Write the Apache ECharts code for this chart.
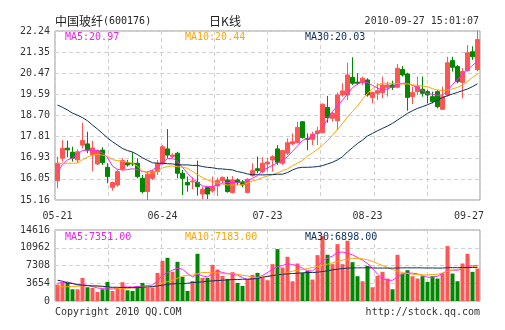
<!DOCTYPE html>
<html><head><meta charset="utf-8">
<script src="https://cdn.jsdelivr.net/npm/echarts@6/dist/echarts.min.js"></script>
<style>html,body{margin:0;padding:0;background:#fff}#c{width:505px;height:330px}</style>
</head><body><div id="c"></div>
<script>
const dates = ['05-21','05-24','05-25','05-26','05-27','05-28','05-31','06-01','06-02','06-03','06-04','06-07','06-08','06-09','06-10','06-11','06-17','06-18','06-21','06-22','06-23','06-24',
'06-25','06-28','06-29','06-30','07-01','07-02','07-05','07-06','07-07','07-08','07-09','07-12','07-13','07-14','07-15','07-16','07-19','07-20','07-21','07-22','07-23',
'07-26','07-27','07-28','07-29','07-30','08-02','08-03','08-04','08-05','08-06','08-09','08-11','08-12','08-13','08-16','08-17','08-18','08-19','08-20','08-23',
'08-24','08-25','08-26','08-27','08-30','08-31','09-01','09-02','09-03','09-06','09-07','09-08','09-09','09-10','09-13','09-14','09-15','09-16','09-17','09-20','09-21','09-27'];

const opens = [15.97,16.91,17.33,17.16,16.84,17.46,17.51,17.06,16.67,17.25,16.53,15.69,15.79,16.46,16.72,16.70,16.70,16.07,15.51,16.07,16.35,16.70,17.30,16.98,17.12,16.28,15.90,15.92,15.90,15.41,15.68,15.54,15.75,15.97,16.00,15.47,16.00,15.89,15.47,16.18,16.47,
16.35,16.67,16.84,17.30,16.70,17.12,17.51,17.56,18.44,17.74,17.70,17.95,17.98,19.04,18.58,18.48,19.56,19.56,20.30,20.10,20.08,20.19,19.45,19.63,19.66,19.88,19.98,19.88,20.63,20.44,19.49,19.70,19.80,19.70,19.49,19.70,18.96,19.56,21.00,20.75,20.09,20.58,21.37,20.62];
const closes = [16.70,17.32,17.26,16.91,17.18,17.65,17.25,17.34,17.23,16.72,16.14,15.89,16.35,16.81,16.63,16.67,16.14,15.51,16.24,16.35,16.70,17.39,17.04,17.04,16.28,16.07,15.79,15.95,15.72,15.61,15.41,15.72,15.97,16.11,15.51,16.00,15.89,15.79,16.03,16.39,16.39,
16.70,16.75,16.97,16.74,17.23,17.56,17.60,18.20,17.77,17.70,17.92,18.05,19.17,18.61,18.79,19.56,19.73,20.40,20.05,20.05,20.26,19.56,19.66,19.74,19.98,19.98,19.88,20.68,20.40,19.46,19.66,19.91,19.63,19.56,19.28,19.07,19.49,20.91,20.72,20.12,20.54,21.33,21.16,21.88];
const lows = [15.65,16.77,16.95,16.77,16.72,17.32,17.12,16.36,16.63,16.63,15.86,15.55,15.72,16.39,16.56,16.58,16.07,15.44,15.16,16.00,16.21,16.63,16.91,16.91,16.07,15.37,15.51,15.61,15.34,15.20,15.20,15.47,15.33,15.86,15.47,15.44,15.79,15.69,15.44,16.14,16.28,
16.28,16.35,16.35,16.63,16.63,17.04,17.46,17.53,17.74,17.25,17.46,17.46,17.95,18.40,18.44,18.09,19.49,19.35,19.98,19.98,19.98,19.49,19.21,19.35,19.42,19.49,19.77,19.84,20.33,18.90,19.18,19.56,19.49,19.21,19.21,19.00,18.93,19.49,20.54,20.05,19.42,20.54,21.03,20.55];
const highs = [16.98,17.67,17.65,17.39,17.28,18.40,18.02,17.64,17.28,17.37,16.70,15.93,16.42,16.91,16.84,17.16,16.91,16.21,16.35,16.42,16.84,17.46,18.13,17.12,17.18,16.42,16.14,16.11,16.81,15.72,15.72,16.14,16.10,16.14,16.14,16.16,16.07,16.00,16.07,16.70,16.98,
16.95,16.91,17.04,17.46,17.25,17.74,17.95,18.44,18.46,17.95,18.02,18.23,19.21,19.52,18.86,19.66,20.05,20.91,21.14,20.47,20.33,20.26,19.70,20.05,20.33,20.12,20.16,20.86,20.77,20.49,19.91,20.33,20.33,19.77,19.70,19.77,19.91,21.16,21.16,20.82,20.68,21.65,21.60,22.24];

const ma5 = [16.31,16.65,16.84,16.92,17.09,17.23,17.25,17.24,17.23,17.12,16.95,16.58,16.44,16.42,16.43,16.47,16.43,16.35,16.33,16.42,16.56,16.72,16.89,16.91,16.77,16.53,16.28,16.07,15.89,15.75,15.72,15.72,15.79,15.86,15.89,15.89,15.90,15.93,15.97,16.07,16.18,
16.39,16.50,16.61,16.71,16.82,16.97,17.20,17.42,17.66,17.73,17.83,17.98,18.20,18.54,18.87,19.11,19.34,19.60,19.87,20.01,20.10,20.08,19.96,19.85,19.77,19.81,19.91,19.98,20.05,20.05,19.96,19.85,19.74,19.61,19.59,19.55,19.55,19.75,20.00,20.20,20.40,20.62,20.80,20.97];
const ma10 = [16.70,16.70,16.70,16.70,16.71,16.85,16.96,17.04,17.06,17.04,16.99,16.85,16.81,16.78,16.75,16.70,16.58,16.37,16.30,16.29,16.36,16.50,16.57,16.58,16.56,16.53,16.49,16.36,16.22,16.10,16.00,15.93,15.87,15.83,15.79,15.79,15.79,15.80,15.87,15.96,16.01,
16.10,16.16,16.23,16.30,16.39,16.46,16.60,16.70,16.82,17.00,17.14,17.28,17.46,17.65,17.88,18.12,18.37,18.64,18.87,19.10,19.38,19.63,19.82,19.98,20.05,20.05,20.05,20.05,20.01,20.02,19.99,19.96,19.93,19.91,19.82,19.77,19.74,19.77,19.81,19.88,19.98,20.12,20.30,20.44];
const ma30 = [19.14,19.04,18.93,18.80,18.71,18.61,18.48,18.30,18.13,17.95,17.76,17.60,17.46,17.32,17.23,17.17,17.06,16.93,16.82,16.72,16.70,16.70,16.68,16.67,16.64,16.63,16.63,16.61,16.61,16.56,16.53,16.51,16.47,16.46,16.44,16.42,16.35,16.31,16.25,16.22,16.22,
16.21,16.22,16.22,16.24,16.24,16.31,16.42,16.50,16.53,16.53,16.54,16.56,16.60,16.67,16.74,16.84,16.97,17.18,17.35,17.53,17.67,17.84,17.95,18.06,18.16,18.26,18.37,18.51,18.65,18.79,18.90,19.00,19.07,19.15,19.24,19.35,19.45,19.53,19.60,19.67,19.74,19.81,19.91,20.03];

const volumes = [3378,3861,3792,2413,2413,4757,2827,2689,1861,2413,3930,2068,2689,3861,2206,2068,3033,3723,2758,2758,5791,8273,8894,6000,8066,4964,2068,4137,9721,4757,
4757,7446,6481,5171,4550,5929,3723,3102,4412,5378,5791,4757,4274,7583,10686,6894,9100,4067,7721,5791,6205,4412,9445,13374,9514,7583,11720,7583,12409,7997,
5102,4067,7239,2827,5171,5998,4619,2413,9514,5653,6342,5102,4619,5102,3930,5102,4619,5653,11306,5653,4067,7721,9721,5998,6687];
const vma5 = [3654,3792,3930,3654,3309,3309,3240,2964,2689,2551,2482,2482,2620,2895,2895,2895,2964,3102,3171,3309,4136,5308,5860,6342,6756,6549,5653,4964,5515,5171,4964,5653,6205,5860,5653,5515,5308,4826,4412,4550,4895,
5240,5860,6549,7032,7308,7652,7514,7239,6756,6205,6205,7032,8273,8824,9238,9996,10065,9858,9514,8962,8411,7721,6687,5515,4619,4274,4274,4964,5515,5791,5722,5584,5240,4895,4895,5102,5653,6274,6343,6343,6618,7170,7239,7351];
const vma10 = [2895,2895,2964,2964,3033,3102,3171,3171,3033,2895,2827,2689,2620,2551,2620,2689,2758,2827,2895,2895,3240,3723,3999,4274,4688,5102,5308,5308,5653,5860,5860,5791,5791,5653,5584,5653,5515,5308,5170,4895,4826,
4964,5102,5239,5377,5584,5860,6136,6343,6480,6687,6894,7101,7308,7583,7859,8135,8411,8618,8756,8756,8686,8480,8135,7721,7308,6894,6480,6136,5860,5653,5515,5446,5377,5377,5446,5515,5791,6136,6343,6480,6687,6894,7032,7183];
const vma30 = [4274,4067,3723,3585,3378,3240,3171,3102,3102,3033,2895,2827,2827,2758,2758,2758,2758,2827,2895,2964,3102,3240,3447,3516,3585,3585,3654,3792,3861,3930,4067,4136,4205,4274,4343,4412,4412,4481,4481,4550,4619,
4895,5033,5239,5377,5515,5584,5653,5722,5791,5860,5860,5929,6067,6205,6411,6549,6687,6756,6825,6825,6830,6840,6800,6780,6790,6770,6760,6800,6820,6830,6820,6830,6810,6790,6800,6780,6790,6850,6870,6860,6880,6900,6890,6898];

const priceTicks = ['15.16','16.05','16.93','17.81','18.70','19.59','20.47','21.35','22.24'];
const priceMin = 15.16, priceMax = 22.24;
const volMax = 14616, volStep = 3654;
const xLabelDates = ['05-21','06-24','07-23','08-23','09-27'];
const stockName = '中国玻纤', stockCode = '(600176)', chartKind = '日K线', stamp = '2010-09-27 15:01:07';
const copyright = 'Copyright 2010 QQ.COM', site = 'http://stock.qq.com';

const UP = '#ff5555', DOWN = '#008800';
const C5 = '#ff22ff', C10 = '#ffa500', C30 = '#0b2f5e';
const MONO = '"DejaVu Sans Mono", monospace';
const CJK = '"Noto Sans CJK SC", sans-serif';
const GRIDC = '#d2d2d2';

const chart = echarts.init(document.getElementById('c'), null, {renderer: 'canvas'});
const last = a => a[a.length - 1];
const dash = {show: true, lineStyle: {color: GRIDC, type: [4, 3], width: 1}};

const candleData = dates.map((d, i) => [opens[i], closes[i], lows[i], highs[i]]);
const volData = volumes.map((v, i) => ({value: v, itemStyle: {color: closes[i] >= opens[i] ? UP : DOWN}}));

function lineS(name, data, color, xi, yi) {
  return {name, type: 'line', data, xAxisIndex: xi, yAxisIndex: yi, symbol: 'none', smooth: false,
    lineStyle: {color, width: 1}, z: 5, silent: true};
}

const option = {
  animation: false,
  backgroundColor: '#fff',
  grid: [
    {left: 55, top: 31, width: 425, height: 169, show: true, borderColor: '#999', borderWidth: 1},
    {left: 55, top: 230, width: 425, height: 71, show: true, borderColor: '#999', borderWidth: 1}
  ],
  xAxis: [
    {type: 'category', gridIndex: 0, data: dates, boundaryGap: true, position: 'bottom',
     axisLine: {show: false}, axisTick: {show: false}, splitLine: {show: false},
     axisLabel: {interval: (i, v) => xLabelDates.includes(v), margin: 11, color: '#333',
       fontFamily: MONO, fontSize: 10,
       formatter: (v, i) => i === dates.length - 1 ? '{r|' + v + '}' : v,
       rich: {r: {fontFamily: MONO, fontSize: 10, color: '#333', padding: [0, 17, 0, 0]}}}},
    {type: 'value', gridIndex: 0, min: 0, max: 8, interval: 1, position: 'top',
     axisLine: {show: false}, axisTick: {show: false}, axisLabel: {show: false}, splitLine: dash},
    {type: 'category', gridIndex: 1, data: dates, boundaryGap: true, position: 'bottom',
     axisLine: {show: false}, axisTick: {show: false}, axisLabel: {show: false}, splitLine: {show: false}},
    {type: 'value', gridIndex: 1, min: 0, max: 8, interval: 1, position: 'top',
     axisLine: {show: false}, axisTick: {show: false}, axisLabel: {show: false}, splitLine: dash}
  ],
  yAxis: [
    {type: 'value', gridIndex: 0, min: priceMin, max: priceMax, show: false, position: 'right'},
    {type: 'value', gridIndex: 0, min: 0, max: priceTicks.length - 1, interval: 1, position: 'left',
     axisLine: {show: false}, axisTick: {show: false}, splitLine: dash,
     axisLabel: {formatter: v => priceTicks[Math.round(v)], color: '#333', fontFamily: MONO, fontSize: 10,
       margin: 5, showMinLabel: true, showMaxLabel: true}},
    {type: 'value', gridIndex: 1, min: 0, max: volMax, interval: volStep, position: 'left',
     axisLine: {show: false}, axisTick: {show: false}, splitLine: dash,
     axisLabel: {formatter: v => String(v), color: '#333', fontFamily: MONO, fontSize: 10, margin: 5,
       showMinLabel: true, showMaxLabel: true}}
  ],
  series: [
    {type: 'candlestick', xAxisIndex: 0, yAxisIndex: 0, data: candleData, barWidth: 4,
     itemStyle: {color: UP, color0: DOWN, borderColor: UP, borderColor0: DOWN, borderWidth: 1}, z: 3, silent: true},
    lineS('MA5', ma5, C5, 0, 0),
    lineS('MA10', ma10, C10, 0, 0),
    lineS('MA30', ma30, C30, 0, 0),
    {type: 'bar', xAxisIndex: 2, yAxisIndex: 2, data: volData, barWidth: 4, z: 3, silent: true},
    lineS('VMA5', vma5, C5, 2, 2),
    lineS('VMA10', vma10, C10, 2, 2),
    lineS('VMA30', vma30, C30, 2, 2)
  ],
  graphic: [
    {type: 'text', x: 55, y: 21, style: {text: stockName, font: '12px ' + CJK, fill: '#222', verticalAlign: 'middle'}},
    {type: 'text', x: 103, y: 21, style: {text: stockCode, font: '10px ' + MONO, fill: '#222', verticalAlign: 'middle'}},
    {type: 'text', x: 225, y: 21, style: {text: chartKind, font: '12px ' + CJK, fill: '#222', align: 'center', verticalAlign: 'middle'}},
    {type: 'text', x: 479, y: 21, style: {text: stamp, font: '10px ' + MONO, fill: '#333', align: 'right', verticalAlign: 'middle'}},
    {type: 'text', x: 65, y: 37, z: 10, style: {text: 'MA5:' + last(ma5).toFixed(2), font: '10px ' + MONO, fill: '#ee22ee', verticalAlign: 'middle'}},
    {type: 'text', x: 185, y: 37, z: 10, style: {text: 'MA10:' + last(ma10).toFixed(2), font: '10px ' + MONO, fill: C10, verticalAlign: 'middle'}},
    {type: 'text', x: 305, y: 37, z: 10, style: {text: 'MA30:' + last(ma30).toFixed(2), font: '10px ' + MONO, fill: C30, verticalAlign: 'middle'}},
    {type: 'text', x: 65, y: 237, z: 10, style: {text: 'MA5:' + last(vma5).toFixed(2), font: '10px ' + MONO, fill: '#ee22ee', verticalAlign: 'middle'}},
    {type: 'text', x: 185, y: 237, z: 10, style: {text: 'MA10:' + last(vma10).toFixed(2), font: '10px ' + MONO, fill: C10, verticalAlign: 'middle'}},
    {type: 'text', x: 305, y: 237, z: 10, style: {text: 'MA30:' + last(vma30).toFixed(2), font: '10px ' + MONO, fill: C30, verticalAlign: 'middle'}},
    {type: 'text', x: 55, y: 312, style: {text: copyright, font: '10px ' + MONO, fill: '#333', verticalAlign: 'middle'}},
    {type: 'text', x: 480, y: 312, style: {text: site, font: '10px ' + MONO, fill: '#333', align: 'right', verticalAlign: 'middle'}}
  ]
};
chart.setOption(option);
</script></body></html>
